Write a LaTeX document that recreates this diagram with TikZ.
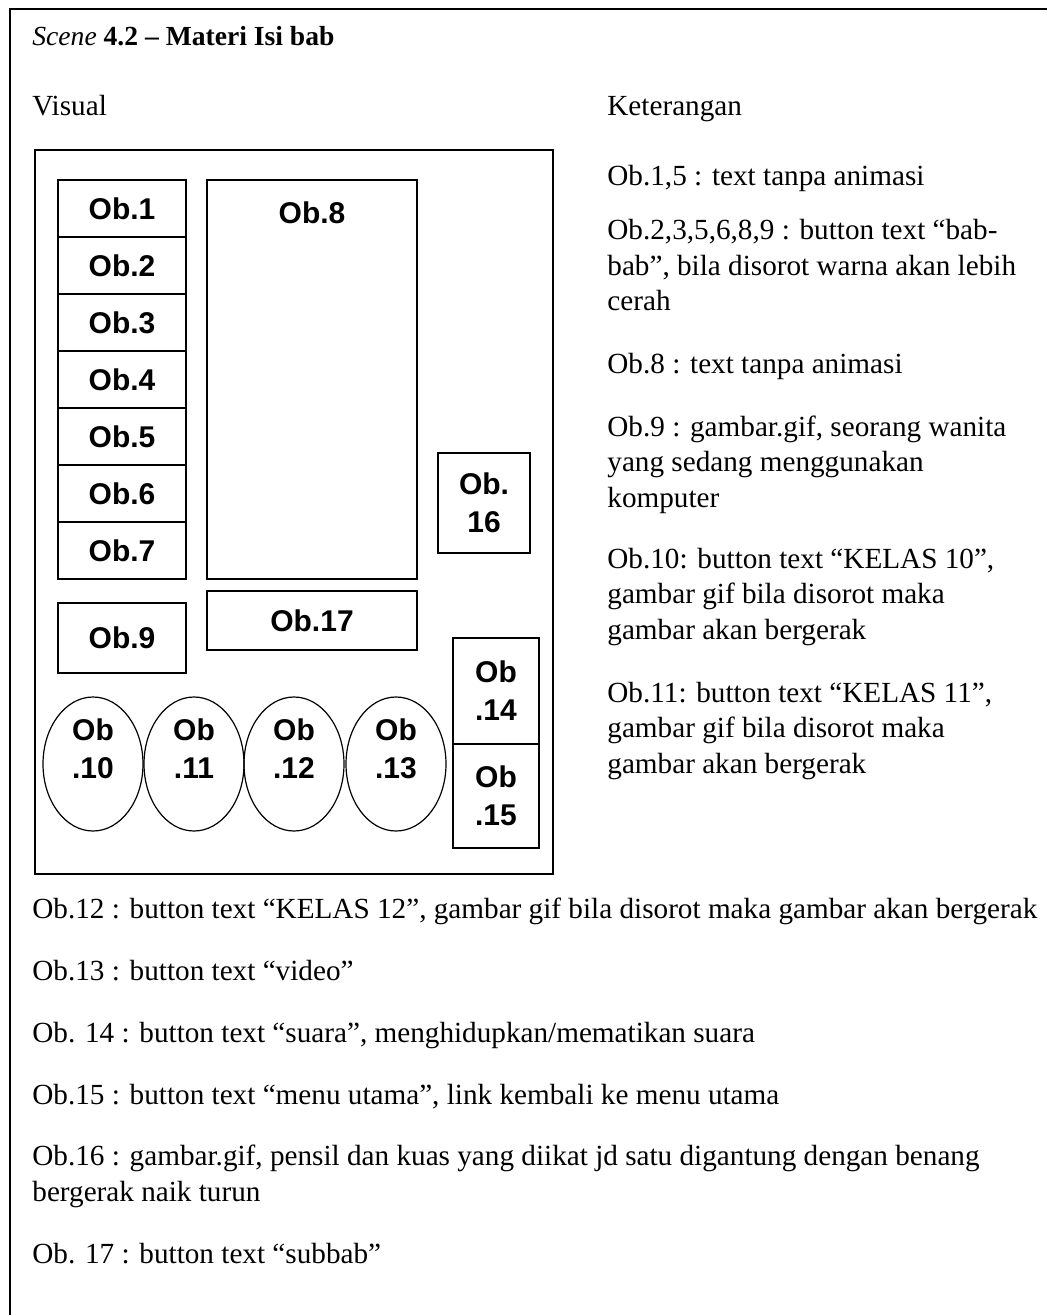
\documentclass[tikz,border=0pt]{standalone}
\usepackage{fontspec}
\setmainfont{Liberation Serif}
\newfontfamily\obfont{Liberation Sans}
\usetikzlibrary{positioning,shapes.geometric}
\tikzset{
  kotak/.style={rectangle, draw, line width=0.8pt, inner sep=0pt, align=center,
                font=\obfont\bfseries\fontsize{15}{19}\selectfont,
                minimum width=#1},
  lonjong/.style={ellipse, draw, line width=0.6pt, inner sep=0pt,
                  minimum width=50pt, minimum height=67pt},
  obtxt/.style={inner sep=0pt, align=center, font=\obfont\bfseries\fontsize{15}{19}\selectfont},
  ket/.style={anchor=base west, inner sep=0pt, align=left,
              font=\fontsize{14.6}{17.75}\selectfont},
}

\begin{document}
\begin{tikzpicture}[x=0.5pt,y=-0.5pt, node distance=-0.8pt]
  \useasboundingbox (0,0) rectangle (1047,1315);
  % bingkai luar (sel tabel)
  \draw[line width=1.2pt] (1047,9) -- (10,9) -- (10,1315);

  \node[ket, font=\fontsize{13.8}{17}\selectfont] (judul) at (32,46) {\textit{Scene} \textbf{4.2 – Materi Isi bab}};
  \node[ket] (visual) at (32,116) {Visual};
  \node[ket] (keterangan) at (607,116) {Keterangan};

  % layar
  \node[rectangle, draw, line width=1pt, minimum width=259pt, minimum height=362pt] (layar) at (294,512) {};

  \node[kotak=64pt, minimum height=28.5pt] (ob1) at (122,208.5) {Ob.1};
  \node[kotak=64pt, minimum height=28.5pt, below=of ob1] (ob2) {Ob.2};
  \node[kotak=64pt, minimum height=28.5pt, below=of ob2] (ob3) {Ob.3};
  \node[kotak=64pt, minimum height=28.5pt, below=of ob3] (ob4) {Ob.4};
  \node[kotak=64pt, minimum height=28.5pt, below=of ob4] (ob5) {Ob.5};
  \node[kotak=64pt, minimum height=28.5pt, below=of ob5] (ob6) {Ob.6};
  \node[kotak=64pt, minimum height=28.5pt, below=of ob6] (ob7) {Ob.7};

  \node[kotak=105pt, minimum height=199.5pt] (ob8) at (312,379.5) {};
  \node[obtxt, below=11pt of ob8.north] (ob8t) {Ob.8};
  \node[kotak=46pt, minimum height=50pt] (ob16) at (484,503) {Ob.\\16};
  \node[kotak=64pt, minimum height=35pt] (ob9) at (122,638) {Ob.9};
  \node[kotak=105pt, minimum height=29.5pt] (ob17) at (312,620.5) {Ob.17};
  \node[kotak=43pt, minimum height=53pt] (ob14) at (496,691) {Ob\\.14};
  \node[kotak=43pt, minimum height=52pt, below=of ob14] (ob15) {Ob\\.15};

  \node[lonjong] (ob10) at (93,764) {};
  \node[lonjong] (ob11) at (194,764) {};
  \node[lonjong] (ob12) at (294,764) {};
  \node[lonjong] (ob13) at (396,764) {};
  \node[obtxt] at ([yshift=7.5pt]ob10.center) {Ob\\.10};
  \node[obtxt] at ([yshift=7.5pt]ob11.center) {Ob\\.11};
  \node[obtxt] at ([yshift=7.5pt]ob12.center) {Ob\\.12};
  \node[obtxt] at ([yshift=7.5pt]ob13.center) {Ob\\.13};

  % keterangan (base = baris terakhir)
  \node[ket] (k1) at (607,186) {Ob.1,5 : text tanpa animasi};
  \node[ket] (k2) at (607,311) {Ob.2,3,5,6,8,9 : button text “bab-\\bab”, bila disorot warna akan lebih\\cerah};
  \node[ket] (k3) at (607,374) {Ob.8 : text tanpa animasi};
  \node[ket] (k4) at (607,507) {Ob.9 : gambar.gif, seorang wanita\\yang sedang menggunakan\\komputer};
  \node[ket] (k5) at (607,639) {Ob.10: button text “KELAS 10”,\\gambar gif bila disorot maka\\gambar akan bergerak};
  \node[ket] (k6) at (607,773) {Ob.11: button text “KELAS 11”,\\gambar gif bila disorot maka\\gambar akan bergerak};
  \node[ket] (k7) at (32,918) {Ob.12 : button text “KELAS 12”, gambar gif bila disorot maka gambar akan bergerak};
  \node[ket] (k8) at (32,980) {Ob.13 : button text “video”};
  \node[ket] (k9) at (32,1042) {Ob. 14 : button text “suara”, menghidupkan/mematikan suara};
  \node[ket] (k10) at (32,1104) {Ob.15 : button text “menu utama”, link kembali ke menu utama};
  \node[ket] (k11) at (32,1201) {Ob.16 : gambar.gif, pensil dan kuas yang diikat jd satu digantung dengan benang\\bergerak naik turun};
  \node[ket] (k12) at (32,1263) {Ob. 17 : button text “subbab”};
\end{tikzpicture}
\end{document}
